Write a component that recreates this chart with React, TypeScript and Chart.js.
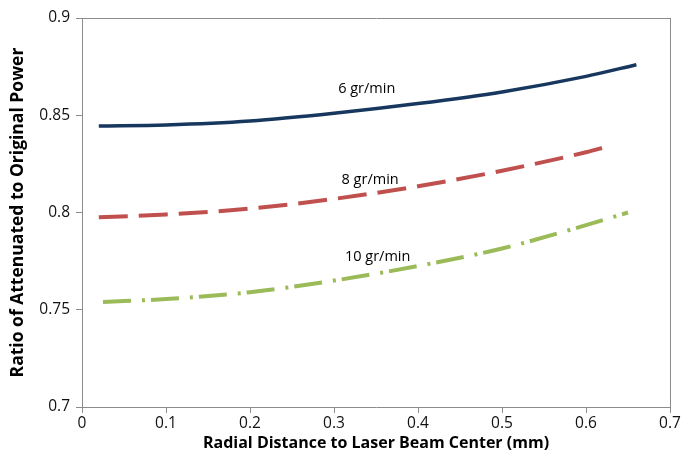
import React, { useEffect, useRef } from "react";
import { Chart, registerables } from "chart.js";

Chart.register(...registerables);

const xTicks = [0, 0.1, 0.2, 0.3, 0.4, 0.5, 0.6, 0.7];
const yTicks = [0.7, 0.75, 0.8, 0.85, 0.9];

const x6 = [0.02, 0.1, 0.2, 0.3, 0.4, 0.5, 0.6, 0.66];
const y6 = [0.8445, 0.845, 0.847, 0.851, 0.856, 0.862, 0.87, 0.876];

const x8 = [0.02, 0.1, 0.2, 0.3, 0.4, 0.5, 0.6, 0.626];
const y8 = [0.7975, 0.799, 0.802, 0.807, 0.8135, 0.8215, 0.831, 0.834];

const x10 = [0.025, 0.1, 0.2, 0.3, 0.4, 0.5, 0.6, 0.65];
const y10 = [0.754, 0.7555, 0.759, 0.765, 0.7725, 0.7815, 0.7935, 0.8];

const seriesNames = ["6 gr/min", "8 gr/min", "10 gr/min"];
const labelX = [0.339, 0.343, 0.352];
const labelY = [0.8635, 0.8167, 0.7771];

const xTitle = "Radial Distance to Laser Beam Center (mm)";
const yTitle = "Ratio of Attenuated to Original Power";

const FONT = "'Open Sans', 'Noto Sans', sans-serif";

const toPts = (xs: number[], ys: number[]) => xs.map((x, i) => ({ x, y: ys[i] }));

export default function App() {
  const ref = useRef<HTMLCanvasElement | null>(null);
  useEffect(() => {
    document.body.style.margin = "0";
    const labelPlugin = {
      id: "seriesLabels",
      afterDatasetsDraw(chart: any) {
        const { ctx, scales } = chart;
        ctx.save();
        ctx.font = `14.5px ${FONT}`;
        ctx.fillStyle = "#000";
        ctx.textAlign = "center";
        ctx.textBaseline = "middle";
        seriesNames.forEach((t, i) => {
          ctx.fillText(t, scales.x.getPixelForValue(labelX[i]), scales.y.getPixelForValue(labelY[i]));
        });
        ctx.restore();
      },
    };
    const chart = new Chart(ref.current!, {
      type: "scatter",
      data: {
        datasets: [
          {
            label: seriesNames[0],
            data: toPts(x6, y6),
            borderColor: "#17375e",
            borderWidth: 3.5,
            showLine: true,
            pointRadius: 0,
            cubicInterpolationMode: "monotone",
          },
          {
            label: seriesNames[1],
            data: toPts(x8, y8),
            borderColor: "#c0504d",
            borderWidth: 4,
            borderDash: [29, 11],
            showLine: true,
            pointRadius: 0,
            cubicInterpolationMode: "monotone",
          },
          {
            label: seriesNames[2],
            data: toPts(x10, y10),
            borderColor: "#9bbb59",
            borderWidth: 4,
            borderDash: [28, 11, 3, 6],
            showLine: true,
            pointRadius: 0,
            cubicInterpolationMode: "monotone",
          },
        ] as any,
      },
      options: {
        animation: false,
        responsive: false,
        maintainAspectRatio: false,
        layout: { padding: { top: 18, right: 24, left: 0, bottom: 0 } },
        plugins: { legend: { display: false }, tooltip: { enabled: false } },
        scales: {
          x: {
            type: "linear",
            min: 0,
            max: 0.7,
            afterBuildTicks: (s: any) => {
              s.ticks = xTicks.map((v) => ({ value: v }));
            },
            afterFit: (s: any) => {
              s.height = 58;
            },
            grid: {
              display: true,
              drawOnChartArea: false,
              drawTicks: true,
              tickLength: 6,
              color: "#8c8c8c",
            },
            border: { display: true, color: "#8c8c8c", width: 1 },
            ticks: {
              color: "#111",
              font: { family: FONT, size: 15.5 },
              padding: 1,
              maxRotation: 0,
              callback: (v: any) => String(v),
            },
            title: {
              display: true,
              text: xTitle,
              color: "#000",
              font: { family: FONT, size: 16, weight: "bold" },
              padding: { top: 0, bottom: 12 },
            },
          },
          y: {
            type: "linear",
            min: 0.7,
            max: 0.9,
            afterBuildTicks: (s: any) => {
              s.ticks = yTicks.map((v) => ({ value: v }));
            },
            afterFit: (s: any) => {
              s.width = 82;
            },
            grid: {
              display: true,
              drawOnChartArea: false,
              drawTicks: true,
              tickLength: 6,
              color: "#8c8c8c",
            },
            border: { display: true, color: "#8c8c8c", width: 1 },
            ticks: {
              color: "#111",
              font: { family: FONT, size: 15.5 },
              padding: 6,
              callback: (v: any) => String(v),
            },
            title: {
              display: true,
              text: yTitle,
              color: "#000",
              font: { family: FONT, size: 17.5, weight: "bold" },
              padding: { top: 8, bottom: 2 },
            },
          },
          x2: {
            type: "linear",
            position: "top",
            min: 0,
            max: 0.7,
            display: true,
            grid: { display: false, drawTicks: false },
            border: { display: true, color: "#8c8c8c", width: 1 },
            ticks: { display: false },
            afterFit: (s: any) => {
              s.height = 0;
            },
          },
          y2: {
            type: "linear",
            position: "right",
            min: 0.7,
            max: 0.9,
            display: true,
            grid: { display: false, drawTicks: false },
            border: { display: true, color: "#8c8c8c", width: 1 },
            ticks: { display: false },
            afterFit: (s: any) => {
              s.width = 0;
            },
          },
        },
      } as any,
      plugins: [labelPlugin],
    });
    return () => chart.destroy();
  }, []);
  return (
    <div style={{ width: 694, height: 465 }}>
      <canvas ref={ref} width={694} height={465} style={{ display: "block" }} />
    </div>
  );
}
